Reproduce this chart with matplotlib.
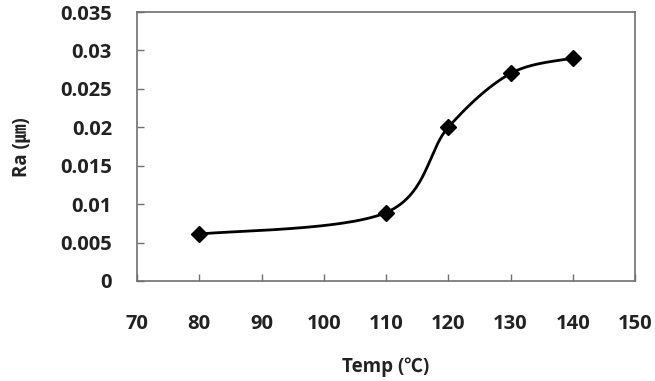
import numpy as np
import matplotlib
matplotlib.use("Agg")
import matplotlib.pyplot as plt

temp = [80, 110, 120, 130, 140]
ra = [0.0061, 0.0089, 0.0200, 0.0270, 0.0290]
xticks = [70, 80, 90, 100, 110, 120, 130, 140, 150]
yticks = [0, 0.005, 0.01, 0.015, 0.02, 0.025, 0.03, 0.035]
ytick_labels = ["0", "0.005", "0.01", "0.015", "0.02", "0.025", "0.03", "0.035"]

FONT = ['Open Sans', 'Noto Sans CJK KR', 'DejaVu Sans']
plt.rcParams['font.family'] = FONT


def excel_smooth(x, y, n=60):
    # Catmull-Rom style cubic Bezier through the points (Excel "smoothed line")
    x = np.asarray(x, float); y = np.asarray(y, float)
    px, py = [], []
    for i in range(len(x) - 1):
        x0, y0 = (x[i - 1], y[i - 1]) if i > 0 else (x[i], y[i])
        x3, y3 = (x[i + 2], y[i + 2]) if i + 2 < len(x) else (x[i + 1], y[i + 1])
        c1x = x[i] + (x[i + 1] - x0) / 6; c1y = y[i] + (y[i + 1] - y0) / 6
        c2x = x[i + 1] - (x3 - x[i]) / 6; c2y = y[i + 1] - (y3 - y[i]) / 6
        t = np.linspace(0, 1, n)
        bx = (1-t)**3*x[i] + 3*(1-t)**2*t*c1x + 3*(1-t)*t**2*c2x + t**3*x[i+1]
        by = (1-t)**3*y[i] + 3*(1-t)**2*t*c1y + 3*(1-t)*t**2*c2y + t**3*y[i+1]
        px.extend(bx); py.extend(by)
    return np.array(px), np.array(py)


fig = plt.figure(figsize=(6.55, 3.81), dpi=100)
ax = fig.add_axes([137/655, 1 - 281/381, (635-137)/655, (281-12)/381])

sx, sy = excel_smooth(temp, ra)
ax.plot(sx, sy, color='black', lw=2)
ax.plot(temp, ra, linestyle='none', marker='D', ms=8, color='black')

ax.set_xlim(70, 150)
ax.set_ylim(0, 0.035)
ax.set_xticks(xticks)
ax.set_yticks(yticks)
ax.set_yticklabels(ytick_labels)
ax.tick_params(direction='in', length=5, width=1, color='#707070',
               labelsize=14.5, labelcolor='#222222')
ax.tick_params(axis='x', pad=24)
ax.tick_params(axis='y', pad=18)
for lab in ax.get_xticklabels() + ax.get_yticklabels():
    lab.set_fontweight('bold')
for s in ax.spines.values():
    s.set_color('#707070')
    s.set_linewidth(1.2)

fig.text(386/655, 1 - 367/381, 'Temp (℃)', ha='center', va='center',
         fontsize=13.5, fontweight='bold', color='#222222', family=FONT)
fig.text(22/655, 1 - 147/381, 'Ra (㎛)', ha='center', va='center', rotation=90,
         fontsize=13.5, fontweight='bold', color='#222222', family=FONT)

fig.savefig('out.png', dpi=100, facecolor='white')
